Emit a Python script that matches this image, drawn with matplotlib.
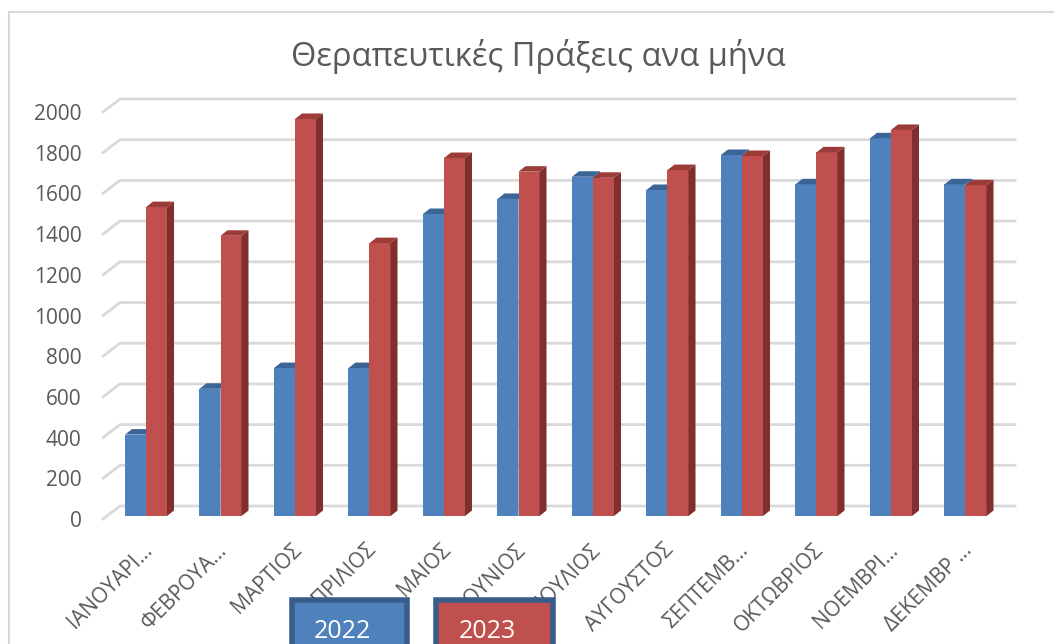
import matplotlib
matplotlib.use("Agg")
import matplotlib.pyplot as plt
from matplotlib.patches import Polygon, Rectangle
from matplotlib.transforms import IdentityTransform, ScaledTranslation
import numpy as np

plt.rcParams["font.family"] = ["Open Sans", "DejaVu Sans"]

months = ["ΙΑΝΟΥΑΡΙ…", "ΦΕΒΡΟΥΑ…", "ΜΑΡΤΙΟΣ", "ΑΠΡΙΛΙΟΣ", "ΜΑΙΟΣ", "ΙΟΥΝΙΟΣ",
          "ΙΟΥΛΙΟΣ", "ΑΥΓΟΥΣΤΟΣ", "ΣΕΠΤΕΜΒ…", "ΟΚΤΩΒΡΙΟΣ", "ΝΟΕΜΒΡΙ…", "ΔΕΚΕΜΒΡ …"]
values_2022 = [400, 625, 727, 727, 1484, 1558, 1667, 1602, 1774, 1630, 1856, 1630]
values_2023 = [1518, 1377, 1951, 1341, 1759, 1692, 1662, 1700, 1769, 1787, 1897, 1625]
yticks = [0, 200, 400, 600, 800, 1000, 1200, 1400, 1600, 1800, 2000]

W, H = 1054, 644
fig = plt.figure(figsize=(W / 100, H / 100), dpi=100)
ax = fig.add_axes([108.75 / W, 128 / H, 894 / W, 407 / H])
ax.set_xlim(-0.5, 11.5)
ax.set_ylim(0, 2000)
for s in ax.spines.values():
    s.set_visible(False)
ax.patch.set_visible(False)


def px_shift(dx, dy):
    return ScaledTranslation(dx / 100, dy / 100, fig.dpi_scale_trans)


ax.set_yticks(yticks)
ax.set_yticklabels([str(v) for v in yticks], fontsize=15, color="#595959")
ax.tick_params(axis="y", length=0, pad=19.7)
for lab in ax.get_yticklabels():
    lab.set_transform(lab.get_transform() + px_shift(0, -3))

x = np.arange(len(months))
ax.set_xticks(x)
ax.set_xticklabels(months, rotation=45, ha="right", va="top", rotation_mode="anchor",
                   fontsize=15, color="#595959")
ax.tick_params(axis="x", length=0, pad=17)
for lab in ax.get_xticklabels():
    lab.set_transform(lab.get_transform() + px_shift(-4, 0))

ident = IdentityTransform()
grid_col = "#D9D9D9"

# back wall gridlines, drawn in pixels from the data scale
back_dy, slant_dx, slant_dy = 10, 17, 13
x_front, x_back_l, x_back_r = 103, 120, 1015
for v in yticks:
    yb = ax.transData.transform((0, v))[1] + back_dy
    ax.add_line(plt.Line2D([x_front, x_back_l, x_back_r], [yb - slant_dy, yb, yb],
                           transform=ident, color=grid_col, lw=2, clip_on=False, zorder=1))

# pseudo-3D columns
bw = 0.282
ddx, ddy = 7, 5.5
series = [(values_2022, -bw / 2, "#4F81BD", "#3B6597", "#385D8A"),
          (values_2023, bw / 2, "#C0504D", "#9C3B38", "#7F2F2D")]
for i in range(len(months)):
    for vals, off, front, top, side in series:
        bars = ax.bar(x[i] + off, vals[i], width=bw, color=front, zorder=3, lw=0)
        b = bars[0]
        (x0, y0) = ax.transData.transform((b.get_x(), 0))
        (x1, y1) = ax.transData.transform((b.get_x() + b.get_width(), b.get_height()))
        ax.add_patch(Polygon([(x0, y1), (x1, y1), (x1 + ddx, y1 + ddy), (x0 + ddx, y1 + ddy)],
                             closed=True, transform=ident, facecolor=top, lw=0,
                             clip_on=False, zorder=3))
        ax.add_patch(Polygon([(x1, y0), (x1, y1), (x1 + ddx, y1 + ddy), (x1 + ddx, y0 + ddy)],
                             closed=True, transform=ident, facecolor=side, lw=0,
                             clip_on=False, zorder=3))

fig.text(538 / W, 1 - 57 / H, "Θεραπευτικές Πράξεις ανα μήνα", ha="center", va="center",
         fontsize=23.5, color="#595959")

# chart area border
fig.add_artist(Rectangle((9 / W, -0.1), 1.2, 1 - 12 / H + 0.1, transform=fig.transFigure,
                         fill=False, edgecolor="#D9D9D9", lw=1.5))

# legend boxes
for x0, x1, col, lab in [(292, 407, "#4F81BD", "2022"), (436, 553, "#C0504D", "2023")]:
    fig.add_artist(Rectangle((x0 / W, -0.05), (x1 - x0) / W, (44 / H) + 0.05,
                             transform=fig.transFigure, facecolor=col,
                             edgecolor="#385D8A", lw=4, zorder=5))
    fig.text(((x0 + x1) / 2 - 7) / W, 1 - 631 / H, lab, ha="center", va="center",
             fontsize=18, color="white", zorder=6)

fig.savefig("out.png", dpi=100)
